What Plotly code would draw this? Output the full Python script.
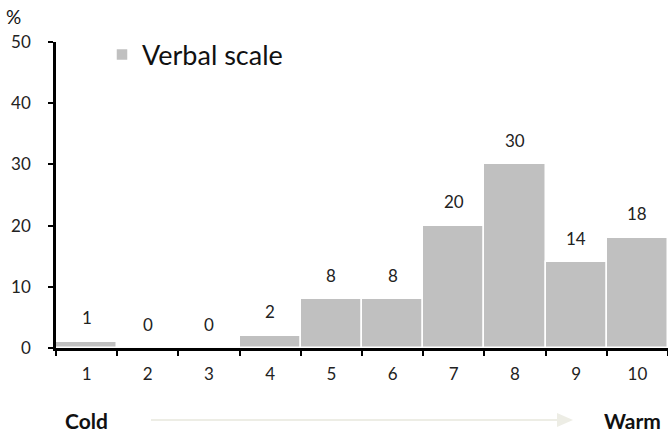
import plotly.graph_objects as go

# Rating scale points and share of respondents (%)
categories = ["1", "2", "3", "4", "5", "6", "7", "8", "9", "10"]
verbal_scale = [1, 0, 0, 2, 8, 8, 20, 30, 14, 18]
y_ticks = [0, 10, 20, 30, 40, 50]

FONT = "Lato, 'Open Sans', sans-serif"
BAR = "#C0C0C0"
ARROW = "#EDEDE5"

fig = go.Figure()
fig.add_trace(go.Bar(
    x=categories,
    y=verbal_scale,
    name="Verbal scale",
    marker=dict(color=BAR, line=dict(color="white", width=1.5)),
    showlegend=True,
))

# value labels above each bar (category axis: position by index)
for i, v in enumerate(verbal_scale):
    fig.add_annotation(x=i, y=v, text=str(v), showarrow=False,
                       xanchor="center", yanchor="middle",
                       yshift=24, font=dict(family=FONT, size=17, color="#222"))

# Cold -> Warm direction arrow under the axis
y_arrow = -0.2353
fig.add_shape(type="line", xref="paper", yref="paper",
              x0=(151 - 56) / 612, x1=(560 - 56) / 612, y0=y_arrow, y1=y_arrow,
              line=dict(color=ARROW, width=2))
fig.add_shape(type="path", xref="paper", yref="paper",
              path=(f"M {(557 - 56) / 612} {y_arrow + 0.0229} "
                    f"L {(573 - 56) / 612} {y_arrow} "
                    f"L {(557 - 56) / 612} {y_arrow - 0.0229} Z"),
              fillcolor=ARROW, line=dict(color=ARROW, width=0))
y_words = (348 - 420) / 306
fig.add_annotation(xref="paper", yref="paper", x=(86 - 56) / 612, y=y_words,
                   text="<b>Cold</b>", showarrow=False,
                   xanchor="center", yanchor="middle",
                   font=dict(family=FONT, size=21, color="#111"))
fig.add_annotation(xref="paper", yref="paper", x=(632 - 56) / 612, y=y_words,
                   text="<b>Warm</b>", showarrow=False,
                   xanchor="center", yanchor="middle",
                   font=dict(family=FONT, size=21, color="#111"))

# unit label
fig.add_annotation(xref="paper", yref="paper", x=(14 - 56) / 612, y=(348 - 16) / 306,
                   text="%", showarrow=False, xanchor="center", yanchor="middle",
                   font=dict(family=FONT, size=19, color="#111"))

fig.update_layout(
    width=668, height=433,
    margin=dict(l=56, r=0, t=42, b=85),
    paper_bgcolor="white", plot_bgcolor="white",
    bargap=0,
    font=dict(family=FONT, size=17, color="#222"),
    legend=dict(x=(102 - 56) / 612, y=(348 - 55) / 306, xanchor="left", yanchor="middle",
                font=dict(family=FONT, size=27, color="#111"),
                bgcolor="rgba(0,0,0,0)", itemwidth=30),
    xaxis=dict(
        type="category", tickson="boundaries", ticks="outside", ticklen=5,
        tickwidth=2, tickcolor="black", showline=True, linecolor="black",
        linewidth=2.5, showgrid=False, ticklabelstandoff=9,
        range=[-0.5, 9.5], tickfont=dict(size=17),
    ),
    yaxis=dict(
        range=[0, 50], tickvals=y_ticks, ticks="outside", ticklen=5,
        tickwidth=2, tickcolor="black", showline=True, linecolor="black",
        linewidth=2.5, showgrid=False, zeroline=False, ticklabelstandoff=14,
        tickfont=dict(size=17),
    ),
)

fig.write_html("out.html")
